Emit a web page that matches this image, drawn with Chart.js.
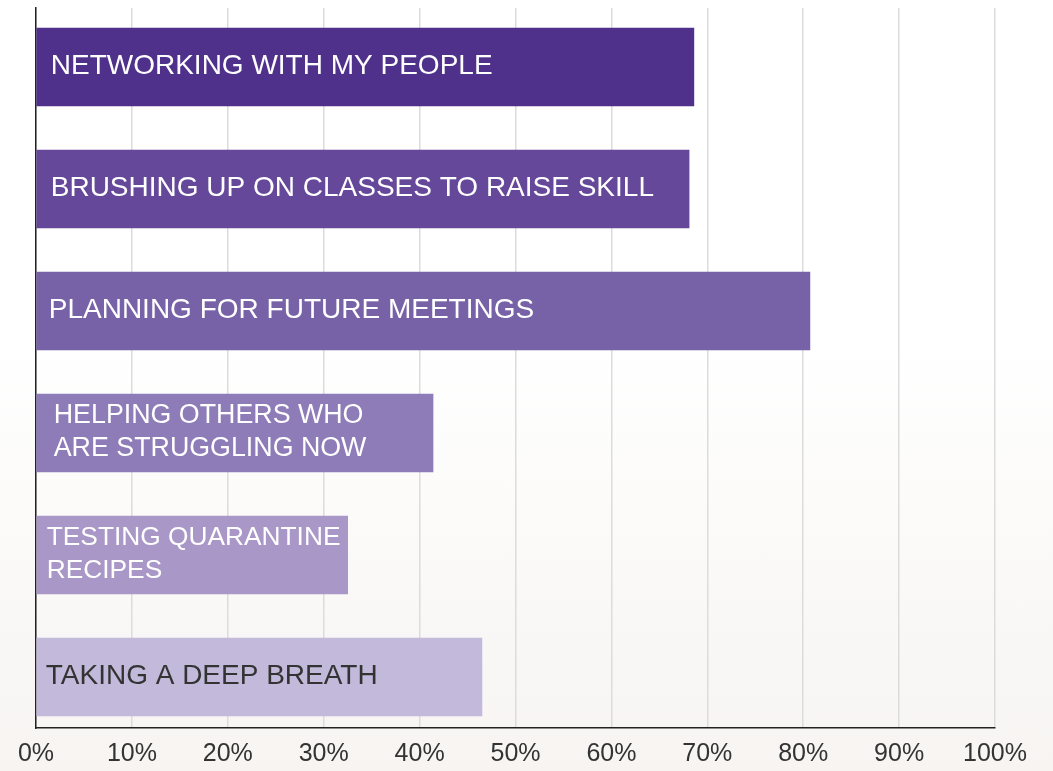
<!DOCTYPE html>
<html lang="en">
<head>
  <meta charset="UTF-8">
  <title>Activities</title>
  <script src="https://cdn.jsdelivr.net/npm/chart.js"></script>
  <style>
    * { box-sizing: border-box; margin: 0; padding: 0; }
    html, body { width: 1053px; height: 771px; overflow: hidden; }
    body { background: linear-gradient(to bottom, #ffffff 0%, #ffffff 45%, #f7f4f2 100%); font-family: "Liberation Sans", Arial, sans-serif; }
    .wrap { position: relative; width: 1053px; height: 771px; }
  </style>
</head>
<body>
  <div class="wrap"><canvas id="chart"></canvas></div>
  <script>
    // categories (lines split where the picture wraps them)
    const categories = [
      ['NETWORKING WITH MY PEOPLE'],
      ['BRUSHING UP ON CLASSES TO RAISE SKILL'],
      ['PLANNING FOR FUTURE MEETINGS'],
      ['HELPING OTHERS WHO', 'ARE STRUGGLING NOW'],
      ['TESTING QUARANTINE', 'RECIPES'],
      ['TAKING A DEEP BREATH']
    ];
    const values = [68.6, 68.1, 80.7, 41.4, 32.5, 46.5];
    const barColors = ['#4f318c', '#654899', '#7862a7', '#8e7cb8', '#a897c7', '#c3b9db'];
    const labelColors = ['#ffffff', '#ffffff', '#ffffff', '#ffffff', '#ffffff', '#333333'];
    const labelSizes = [28, 28, 28, 26.8, 26.3, 28];
    const labelInset = [14, 14, 12, 17, 10, 9];
    const xTicks = [0, 10, 20, 30, 40, 50, 60, 70, 80, 90, 100];

    // labels written inside each bar, starting near the left axis
    const barLabels = {
      id: 'barLabels',
      afterDatasetsDraw(chart) {
        const ctx = chart.ctx;
        const meta = chart.getDatasetMeta(0);
        ctx.save();
        ctx.textBaseline = 'middle';
        ctx.textAlign = 'left';
        meta.data.forEach((bar, i) => {
          const lines = categories[i];
          const lh = 33;
          const y0 = bar.y - (lines.length - 1) * lh / 2;
          ctx.font = labelSizes[i] + 'px "Liberation Sans", Arial, sans-serif';
          ctx.fillStyle = labelColors[i];
          lines.forEach((t, j) => ctx.fillText(t, bar.base + labelInset[i], y0 + j * lh - 1));
        });
        ctx.restore();
      }
    };

    new Chart(document.getElementById('chart'), {
      type: 'bar',
      data: {
        datasets: [{
          data: values.map((v, i) => ({ x: v, y: i })),
          backgroundColor: barColors,
          borderWidth: 0,
          barThickness: 78
        }]
      },
      options: {
        indexAxis: 'y',
        responsive: true,
        maintainAspectRatio: false,
        animation: false,
        layout: { padding: { left: 36, right: 58, top: 8, bottom: 0 } },
        plugins: { legend: { display: false }, tooltip: { enabled: false } },
        scales: {
          x: {
            type: 'linear',
            min: 0,
            max: 100,
            afterBuildTicks: (s) => { s.ticks = xTicks.map(v => ({ value: v })); },
            afterFit: (s) => { s.height = 43; },
            grid: { color: '#dcdcdc', lineWidth: 1.5, drawTicks: false },
            border: { display: true, color: '#222222', width: 1.5 },
            ticks: {
              color: '#333333',
              padding: 11,
              font: { family: '"Liberation Sans", Arial, sans-serif', size: 25 },
              callback: v => v + '%'
            }
          },
          y: {
            type: 'linear',
            reverse: true,
            offset: false,
            min: -0.484,
            max: 5.418,
            afterFit: (s) => { s.width = 0; },
            grid: { display: false },
            border: { display: true, color: '#222222', width: 1.5 },
            ticks: { display: false }
          }
        }
      },
      plugins: [barLabels]
    });
  </script>
</body>
</html>
